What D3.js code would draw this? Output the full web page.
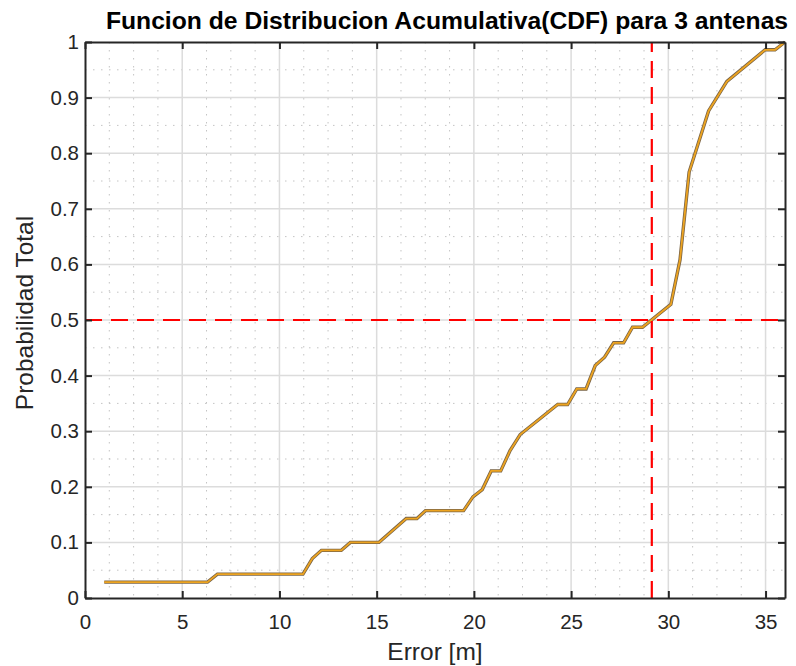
<!DOCTYPE html>
<html>
<head>
<meta charset="utf-8">
<script src="https://cdn.jsdelivr.net/npm/d3@7"></script>
<style>
  html, body { margin: 0; padding: 0; background: #ffffff; }
  svg { display: block; }
  text { font-family: "Liberation Sans", Arial, Helvetica, sans-serif; }
</style>
</head>
<body>
<div id="chart"></div>
<script>
// Empirical CDF of the position error (metres) for 3 antennas
const errorM = [0.99, 6.30, 6.81, 11.21, 11.69, 12.16, 13.18, 13.65, 15.12, 16.52, 17.07, 17.51,
  19.47, 19.95, 20.43, 20.89, 21.38, 21.86, 22.38, 24.31, 24.82, 25.29, 25.77, 26.24,
  26.72, 27.19, 27.70, 28.16, 28.67, 30.13, 30.60, 31.07, 32.07, 33.01, 34.98, 35.49, 36.0];
const cdfProb = [0.0286, 0.0286, 0.0429, 0.0429, 0.071, 0.0857, 0.0857, 0.1, 0.1, 0.1429, 0.1429, 0.1571,
  0.1571, 0.182, 0.195, 0.2286, 0.2286, 0.265, 0.294, 0.348, 0.348, 0.376, 0.376, 0.418,
  0.433, 0.459, 0.459, 0.487, 0.487, 0.528, 0.608, 0.766, 0.876, 0.929, 0.986, 0.986, 1.0];

// Median marker (probability 0.5) and the error where it is reached
const medianProb = 0.5;
const medianError = 29.15;

const xTicks = [0, 5, 10, 15, 20, 25, 30, 35];
const yTicks = [0, 0.1, 0.2, 0.3, 0.4, 0.5, 0.6, 0.7, 0.8, 0.9, 1];
const xDomain = [0, 36];
const yDomain = [0, 1];

const titleText = "Funcion de Distribucion Acumulativa(CDF) para 3 antenas";
const xLabelText = "Error [m]";
const yLabelText = "Probabilidad Total";

const W = 796, H = 666;
const margin = { left: 85, right: 11, top: 42, bottom: 68 };
const iw = W - margin.left - margin.right;
const ih = H - margin.top - margin.bottom;

const svg = d3.select("#chart").append("svg").attr("width", W).attr("height", H);
const g = svg.append("g").attr("transform", `translate(${margin.left},${margin.top})`);

const x = d3.scaleLinear().domain(xDomain).range([0, iw]);
const y = d3.scaleLinear().domain(yDomain).range([ih, 0]);

// Minor grid (dotted)
const xMinor = d3.range(0, 36.001, 1.25).filter(v => Math.abs(v / 5 - Math.round(v / 5)) > 1e-6);
const yMinor = d3.range(0, 1.0001, 0.05).filter(v => Math.abs(v * 10 - Math.round(v * 10)) > 1e-6);
g.append("g").selectAll("line").data(xMinor).join("line")
  .attr("x1", d => x(d)).attr("x2", d => x(d)).attr("y1", 0).attr("y2", ih)
  .attr("stroke", "#c4c4c4").attr("stroke-width", 1).attr("stroke-dasharray", "1.5,6.5");
g.append("g").selectAll("line").data(yMinor).join("line")
  .attr("y1", d => y(d)).attr("y2", d => y(d)).attr("x1", 0).attr("x2", iw)
  .attr("stroke", "#c4c4c4").attr("stroke-width", 1).attr("stroke-dasharray", "1.5,6.5");

// Major grid
g.append("g").selectAll("line").data(xTicks.filter(v => v > 0)).join("line")
  .attr("x1", d => x(d)).attr("x2", d => x(d)).attr("y1", 0).attr("y2", ih)
  .attr("stroke", "#dcdcdc").attr("stroke-width", 1.5);
g.append("g").selectAll("line").data(yTicks.filter(v => v > 0 && v < 1)).join("line")
  .attr("y1", d => y(d)).attr("y2", d => y(d)).attr("x1", 0).attr("x2", iw)
  .attr("stroke", "#dcdcdc").attr("stroke-width", 1.5);

// CDF curve: dark outline under the orange stroke
const pts = errorM.map((e, i) => [e, cdfProb[i]]);
const line = d3.line().x(d => x(d[0])).y(d => y(d[1]));
g.append("path").datum(pts).attr("d", line)
  .attr("fill", "none").attr("stroke", "#7a6446").attr("stroke-width", 3.4)
  .attr("stroke-linejoin", "miter");
g.append("path").datum(pts).attr("d", line)
  .attr("fill", "none").attr("stroke", "#EDA420").attr("stroke-width", 1.8)
  .attr("stroke-linejoin", "miter");

// Median reference lines
g.append("line")
  .attr("x1", x(xDomain[0])).attr("x2", x(xDomain[1]))
  .attr("y1", y(medianProb)).attr("y2", y(medianProb))
  .attr("stroke", "#ff0000").attr("stroke-width", 2.2).attr("stroke-dasharray", "17,9");
g.append("line")
  .attr("x1", x(medianError)).attr("x2", x(medianError))
  .attr("y1", y(yDomain[0])).attr("y2", y(yDomain[1]))
  .attr("stroke", "#ff0000").attr("stroke-width", 2.2).attr("stroke-dasharray", "17,9");

// Axes (ticks inward on all four sides)
const axisColor = "#262626";
const tickLen = 7;
const xAxis = g.append("g").attr("transform", `translate(0,${ih})`)
  .call(d3.axisBottom(x).tickValues(xTicks).tickFormat(d3.format("d")).tickSizeInner(-tickLen).tickSizeOuter(0).tickPadding(16));
const yAxis = g.append("g")
  .call(d3.axisLeft(y).tickValues(yTicks).tickFormat(d => d === 0 || d === 1 ? String(d) : d3.format(".1f")(d)).tickSizeInner(-tickLen).tickSizeOuter(0).tickPadding(6));
const xTop = g.append("g")
  .call(d3.axisTop(x).tickValues(xTicks).tickFormat("").tickSizeInner(-tickLen).tickSizeOuter(0));
const yRight = g.append("g").attr("transform", `translate(${iw},0)`)
  .call(d3.axisRight(y).tickValues(yTicks).tickFormat("").tickSizeInner(-tickLen).tickSizeOuter(0));

[xAxis, yAxis, xTop, yRight].forEach(a => {
  a.select(".domain").attr("stroke", axisColor).attr("stroke-width", 2);
  a.selectAll(".tick line").attr("stroke", axisColor).attr("stroke-width", 2);
  a.selectAll(".tick text").attr("fill", axisColor).attr("font-size", 20.5)
    .attr("font-family", "'Liberation Sans', Arial, sans-serif");
});

// Titles
svg.append("text")
  .attr("x", 447).attr("y", 29)
  .attr("text-anchor", "middle")
  .attr("font-size", 24.7).attr("font-weight", "bold").attr("fill", "#000")
  .text(titleText);
svg.append("text")
  .attr("x", margin.left + iw / 2).attr("y", 660)
  .attr("text-anchor", "middle")
  .attr("font-size", 24.5).attr("fill", axisColor)
  .text(xLabelText);
svg.append("text")
  .attr("transform", `translate(33,313) rotate(-90)`)
  .attr("text-anchor", "middle")
  .attr("font-size", 24.5).attr("fill", axisColor)
  .text(yLabelText);
</script>
</body>
</html>
